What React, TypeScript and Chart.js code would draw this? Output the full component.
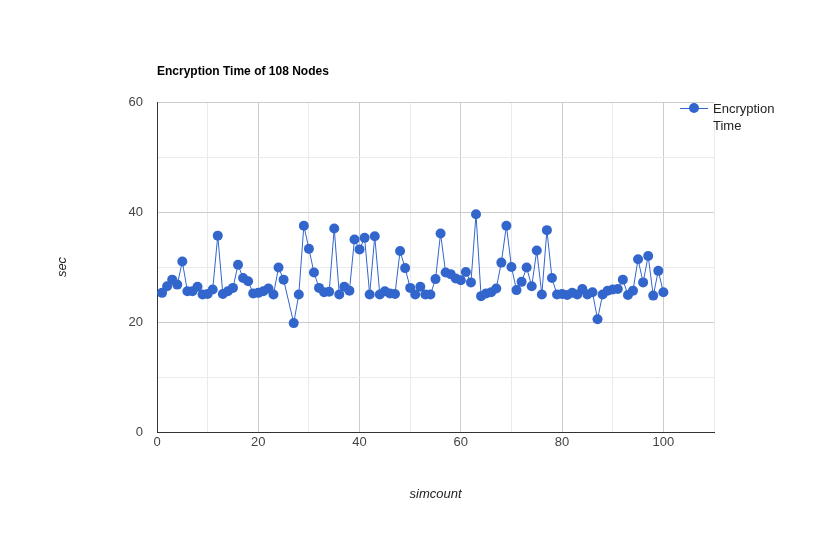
import { useEffect, useRef } from 'react';
import { Chart, registerables } from 'chart.js';

Chart.register(...registerables);

const simcount = [
  1, 2, 3, 4, 5, 6, 7, 8, 9, 10, 11, 12, 13, 14, 15, 16, 17, 18, 19, 20, 21, 22, 23, 24, 25, 27, 28, 29, 30,
  31, 32, 33, 34, 35, 36, 37, 38, 39, 40, 41, 42, 43, 44, 45, 46, 47, 48, 49, 50, 51, 52, 53, 54, 55, 56, 57,
  58, 59, 60, 61, 62, 63, 64, 65, 66, 67, 68, 69, 70, 71, 72, 73, 74, 75, 76, 77, 78, 79, 80, 81, 82, 83, 84,
  85, 86, 87, 88, 89, 90, 91, 92, 93, 94, 95, 96, 97, 98, 99, 100,
];
const encryptionTime = [
  25.3, 26.5, 27.7, 26.8, 31, 25.6, 25.6, 26.4, 25, 25.1, 25.9, 35.7, 25.1, 25.6, 26.2, 30.4, 28, 27.4, 25.2,
  25.3, 25.6, 26.1, 25, 29.9, 27.7, 19.8, 25, 37.5, 33.3, 29, 26.2, 25.4, 25.5, 37, 25, 26.4, 25.7, 35, 33.2,
  35.3, 25, 35.6, 25, 25.6, 25.2, 25.1, 32.9, 29.8, 26.2, 25, 26.4, 25, 25, 27.8, 36.1, 29, 28.7, 27.9, 27.6,
  29.1, 27.2, 39.6, 24.7, 25.2, 25.4, 26.1, 30.8, 37.5, 30, 25.8, 27.3, 29.9, 26.5, 33, 25, 36.7, 28, 25, 25.1,
  24.9, 25.3, 25, 26, 25, 25.4, 20.5, 25, 25.7, 25.9, 26, 27.7, 24.9, 25.7, 31.4, 27.2, 32, 24.8, 29.3, 25.4,
];
const xTicks = [0, 20, 40, 60, 80, 100];
const yTicks = [0, 20, 40, 60];

const font = 'Arial, "Liberation Sans", sans-serif';

const App = () => {
  const canvasRef = useRef<HTMLCanvasElement | null>(null);
  const chartRef = useRef<Chart | null>(null);

  useEffect(() => {
    if (!canvasRef.current) return;
    if (chartRef.current) chartRef.current.destroy();

    chartRef.current = new Chart(canvasRef.current, {
      type: 'line',
      data: {
        datasets: [{
          label: 'Encryption Time',
          data: simcount.map((x, i) => ({ x, y: encryptionTime[i] })),
          borderColor: '#3366cc',
          backgroundColor: '#3366cc',
          borderWidth: 1,
          pointRadius: 5,
          pointBorderWidth: 0,
          tension: 0,
        }],
      },
      options: {
        animation: false,
        responsive: false,
        layout: { padding: { top: 102, right: 109 } },
        plugins: { legend: { display: false }, title: { display: false }, tooltip: { enabled: false } },
        scales: {
          x: {
            type: 'linear',
            min: 0,
            max: 110,
            afterFit: (s: any) => { s.height = 102; },
            ticks: {
              stepSize: 10,
              color: '#444',
              font: { family: font, size: 13 },
              maxRotation: 0,
              callback: (v: any) => (xTicks.includes(v) ? String(v) : ''),
            },
            grid: {
              color: (c: any) => (xTicks.includes(c.tick.value) ? '#cccccc' : '#ebebeb'),
              drawTicks: false,
            },
            border: { color: '#333', display: true },
            title: {
              display: true,
              text: 'simcount',
              color: '#222',
              font: { family: font, size: 13, style: 'italic' },
              padding: { bottom: 32 },
            },
          },
          y: {
            min: 0,
            max: 60,
            afterFit: (s: any) => { s.width = 157; },
            ticks: {
              stepSize: 10,
              color: '#444',
              padding: 14,
              font: { family: font, size: 13 },
              callback: (v: any) => (yTicks.includes(v) ? String(v) : ''),
            },
            grid: {
              color: (c: any) => (yTicks.includes(c.tick.value) ? '#cccccc' : '#ebebeb'),
              drawTicks: false,
            },
            border: { color: '#333' },
            title: {
              display: true,
              text: 'sec',
              color: '#222',
              font: { family: font, size: 13, style: 'italic' },
              padding: { top: 55 },
            },
          },
        },
      },
    });

    return () => {
      if (chartRef.current) {
        chartRef.current.destroy();
        chartRef.current = null;
      }
    };
  }, []);

  return (
    <div style={{ position: 'absolute', left: 0, top: 0, width: 823, height: 534, fontFamily: font }}>
      <canvas ref={canvasRef} width={823} height={534}></canvas>
      <div style={{ position: 'absolute', left: 157, top: 64, fontSize: 12, fontWeight: 'bold', color: '#000' }}>
        Encryption Time of 108 Nodes
      </div>
      <div style={{ position: 'absolute', left: 680, top: 100, display: 'flex', fontSize: 13, color: '#222' }}>
        <div style={{ position: 'relative', width: 28, height: 16 }}>
          <div style={{ position: 'absolute', left: 0, top: 7.5, width: 28, height: 1, background: '#3366cc' }} />
          <div style={{ position: 'absolute', left: 9, top: 3, width: 10, height: 10, borderRadius: 5, background: '#3366cc' }} />
        </div>
        <div style={{ marginLeft: 5, lineHeight: '17px', width: 80 }}>Encryption Time</div>
      </div>
    </div>
  );
};

export default App;
